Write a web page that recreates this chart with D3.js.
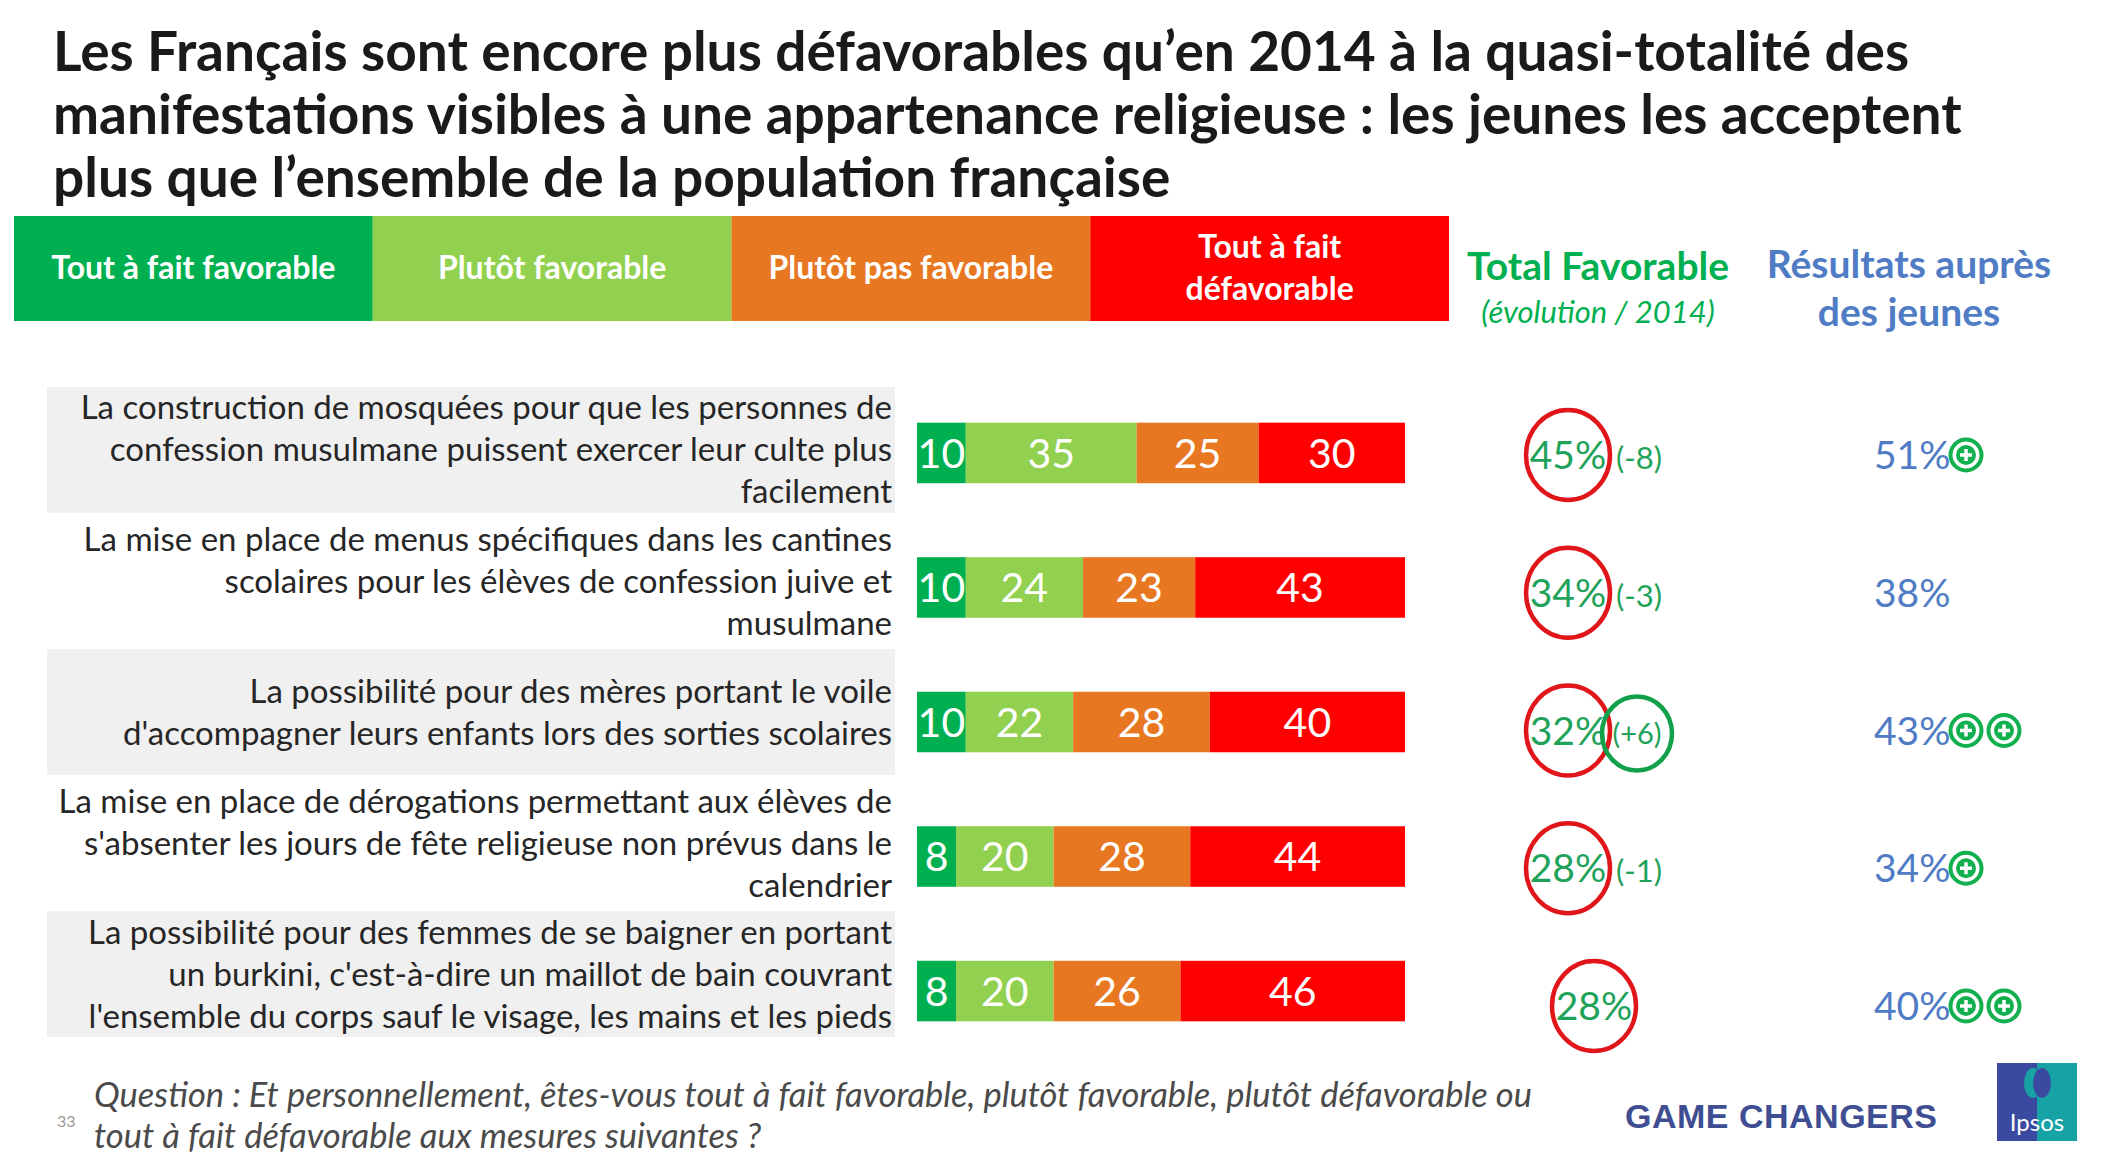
<!DOCTYPE html>
<html>
<head>
<meta charset="utf-8">
<script src="https://cdn.jsdelivr.net/npm/d3@7"></script>
<style>
  body { margin: 0; background: #fff; }
  svg { display: block; font-family: Lato, "Open Sans", sans-serif; }
</style>
</head>
<body>
<svg id="chart"></svg>
<script>
// data
const titleLines = [
  "Les Français sont encore plus défavorables qu’en 2014 à la quasi-totalité des",
  "manifestations visibles à une appartenance religieuse : les jeunes les acceptent",
  "plus que l’ensemble de la population française"
];
const categories = ["Tout à fait favorable", "Plutôt favorable", "Plutôt pas favorable", "Tout à fait défavorable"];
const items = [
  ["La construction de mosquées pour que les personnes de", "confession musulmane puissent exercer leur culte plus", "facilement"],
  ["La mise en place de menus spécifiques dans les cantines", "scolaires pour les élèves de confession juive et", "musulmane"],
  ["La possibilité pour des mères portant le voile", "d'accompagner leurs enfants lors des sorties scolaires"],
  ["La mise en place de dérogations permettant aux élèves de", "s'absenter les jours de fête religieuse non prévus dans le", "calendrier"],
  ["La possibilité pour des femmes de se baigner en portant", "un burkini, c'est-à-dire un maillot de bain couvrant", "l'ensemble du corps sauf le visage, les mains et les pieds"]
];
const toutFavorable = [10, 10, 10, 8, 8];
const plutotFavorable = [35, 24, 22, 20, 20];
const plutotPasFavorable = [25, 23, 28, 28, 26];
const toutDefavorable = [30, 43, 40, 44, 46];
const totalFavorable = [45, 34, 32, 28, 28];
const evolution = ["(-8)", "(-3)", "(+6)", "(-1)", null];
const evolutionUp = [false, false, true, false, false];
const jeunes = [51, 38, 43, 34, 40];
const jeunesPlus = [1, 0, 2, 1, 2];
const question = [
  "Question : Et personnellement, êtes-vous tout à fait favorable, plutôt favorable, plutôt défavorable ou",
  "tout à fait défavorable aux mesures suivantes ?"
];

const W = 2118, H = 1174;
const colors = ["#00B050", "#92D050", "#E87722", "#FF0000"];
const green = "#1FA25A", blue = "#4F7CC4";

const svg = d3.select("#chart").attr("width", W).attr("height", H);
svg.append("rect").attr("width", W).attr("height", H).attr("fill", "#fff");

// title
svg.append("g").selectAll("text")
  .data(titleLines)
  .enter()
  .append("text")
  .attr("x", 53)
  .attr("y", (d, i) => 71 + i * 63)
  .attr("font-size", 55)
  .attr("font-weight", 700)
  .attr("fill", "#1a1a1a")
  .text(d => d);

// legend header boxes
const hx = d3.scaleBand().domain(categories).range([14, 1449]);
const head = svg.append("g");
head.selectAll("rect")
  .data(categories)
  .enter()
  .append("rect")
  .attr("x", d => hx(d))
  .attr("y", 216)
  .attr("width", hx.bandwidth())
  .attr("height", 105)
  .attr("fill", (d, i) => colors[i]);
head.selectAll("text")
  .data(categories)
  .enter()
  .append("text")
  .attr("x", d => hx(d) + hx.bandwidth() / 2)
  .attr("y", 279)
  .attr("text-anchor", "middle")
  .attr("font-size", 32)
  .attr("font-weight", 700)
  .attr("fill", "#fff")
  .each(function (d, i) {
    const t = d3.select(this);
    if (i === 3) {
      t.append("tspan").attr("x", hx(d) + hx.bandwidth() / 2).attr("y", 258).text("Tout à fait");
      t.append("tspan").attr("x", hx(d) + hx.bandwidth() / 2).attr("y", 300).text("défavorable");
    } else {
      t.text(d);
    }
  });

svg.append("text").attr("x", 1598).attr("y", 280).attr("text-anchor", "middle")
  .attr("font-size", 39).attr("font-weight", 700).attr("fill", "#00B050").text("Total Favorable");
svg.append("text").attr("x", 1598).attr("y", 323).attr("text-anchor", "middle")
  .attr("font-size", 31).attr("font-style", "italic").attr("fill", "#00B050").text("(évolution / 2014)");
svg.append("text").attr("x", 1909).attr("y", 278).attr("text-anchor", "middle")
  .attr("font-size", 39).attr("font-weight", 700).attr("fill", blue).text("Résultats auprès");
svg.append("text").attr("x", 1909).attr("y", 326).attr("text-anchor", "middle")
  .attr("font-size", 39).attr("font-weight", 700).attr("fill", blue).text("des jeunes");

// row scales
const rowIdx = d3.range(items.length);
const yLabel = d3.scaleBand().domain(rowIdx).range([387, 1037]).paddingInner(0.04);
const yBar = d3.scaleBand().domain(rowIdx).range([385, 1059]).paddingInner(0.55).paddingOuter(0.28);
const yRight = d3.scalePoint().domain(rowIdx).range([455, 1006]);
const x = d3.scaleLinear().domain([0, 100]).range([917, 1405]);

// gray panels on alternate rows
svg.append("g").selectAll("rect")
  .data(rowIdx.filter(i => i % 2 === 0))
  .enter()
  .append("rect")
  .attr("x", 47)
  .attr("y", i => yLabel(i))
  .attr("width", 848)
  .attr("height", yLabel.bandwidth())
  .attr("fill", "#F0F0F0");

// row labels
const lineH = 42;
svg.append("g").selectAll("text")
  .data(items)
  .enter()
  .append("text")
  .attr("text-anchor", "end")
  .attr("font-size", 33)
  .attr("fill", "#262626")
  .each(function (lines, i) {
    const cy = yLabel(i) + yLabel.bandwidth() / 2;
    const top = cy - (lines.length - 1) * lineH / 2;
    d3.select(this).selectAll("tspan")
      .data(lines)
      .enter()
      .append("tspan")
      .attr("x", 892)
      .attr("y", (l, j) => top + j * lineH)
      .attr("dy", "0.35em")
      .text(l => l);
  });

// stacked bars
const table = rowIdx.map(i => ({
  i, "Tout à fait favorable": toutFavorable[i], "Plutôt favorable": plutotFavorable[i],
  "Plutôt pas favorable": plutotPasFavorable[i], "Tout à fait défavorable": toutDefavorable[i]
}));
const stacked = d3.stack().keys(categories)(table);
const seg = svg.append("g").selectAll("g")
  .data(stacked)
  .enter()
  .append("g")
  .attr("fill", (d, k) => colors[k]);
seg.selectAll("rect")
  .data(d => d)
  .enter()
  .append("rect")
  .attr("x", d => x(d[0]))
  .attr("y", d => yBar(d.data.i))
  .attr("width", d => x(d[1]) - x(d[0]))
  .attr("height", yBar.bandwidth());
seg.selectAll("text")
  .data(d => d)
  .enter()
  .append("text")
  .attr("x", d => (x(d[0]) + x(d[1])) / 2)
  .attr("y", d => yBar(d.data.i) + yBar.bandwidth() / 2)
  .attr("dy", "0.36em")
  .attr("text-anchor", "middle")
  .attr("font-size", 41)
  .attr("fill", "#fff")
  .text(d => d[1] - d[0]);

// total favorable column
const tot = svg.append("g");
rowIdx.forEach(i => {
  const cy = yRight(i);
  const cx = evolution[i] ? 1568 : 1594;
  tot.append("text").attr("x", cx).attr("y", cy).attr("dy", "0.36em")
    .attr("text-anchor", "middle").attr("font-size", 39).attr("fill", green)
    .text(totalFavorable[i] + "%");
  tot.append("ellipse").attr("cx", cx).attr("cy", cy).attr("rx", 42).attr("ry", 45)
    .attr("fill", "none").attr("stroke", "#E0161B").attr("stroke-width", 4.5);
  if (evolution[i]) {
    tot.append("text").attr("x", evolutionUp[i] ? 1637 : 1616).attr("y", cy + 3).attr("dy", "0.36em")
      .attr("text-anchor", evolutionUp[i] ? "middle" : "start")
      .attr("font-size", evolutionUp[i] ? 29 : 31).attr("fill", green)
      .text(evolution[i]);
    if (evolutionUp[i]) {
      tot.append("ellipse").attr("cx", 1637).attr("cy", cy + 3).attr("rx", 35).attr("ry", 37)
        .attr("fill", "none").attr("stroke", "#12A04A").attr("stroke-width", 4.5);
    }
  }
});

// youth column with plus markers
const jg = svg.append("g");
rowIdx.forEach(i => {
  const cy = yRight(i);
  jg.append("text").attr("x", 1874).attr("y", cy).attr("dy", "0.36em")
    .attr("font-size", 39).attr("fill", blue).text(jeunes[i] + "%");
  d3.range(jeunesPlus[i]).forEach(k => {
    const px = 1966 + k * 38;
    const p = jg.append("g").attr("transform", `translate(${px},${cy})`);
    p.append("circle").attr("r", 15.5).attr("fill", "#fff").attr("stroke", "#12B04E").attr("stroke-width", 4);
    p.append("circle").attr("r", 10).attr("fill", "#12B04E");
    p.append("path").attr("d", "M-6,0H6M0,-6V6").attr("stroke", "#fff").attr("stroke-width", 3.5);
  });
});

// footer
svg.append("text").attr("x", 57).attr("y", 1127).attr("font-size", 16).attr("fill", "#999").text("33");
svg.append("g").selectAll("text")
  .data(question)
  .enter()
  .append("text")
  .attr("x", 94)
  .attr("y", (d, i) => 1107 + i * 41)
  .attr("font-size", 34.5)
  .attr("font-style", "italic")
  .attr("fill", "#4a4a4a")
  .text(d => d);

svg.append("text").attr("x", 1625).attr("y", 1128)
  .attr("font-family", "'Liberation Sans', Arial, sans-serif")
  .attr("font-size", 34).attr("font-weight", 700).attr("fill", "#3F4E92")
  .attr("textLength", 312).text("GAME CHANGERS");

// Ipsos logo
const logo = svg.append("g").attr("transform", "translate(1997,1063)");
logo.append("rect").attr("width", 80).attr("height", 78).attr("fill", "#3A4AA0");
logo.append("rect").attr("x", 40).attr("width", 40).attr("height", 78).attr("fill", "#17A3A5");
logo.append("ellipse").attr("cx", 36).attr("cy", 20).attr("rx", 9).attr("ry", 15).attr("fill", "#17A3A5");
logo.append("ellipse").attr("cx", 45).attr("cy", 20).attr("rx", 9).attr("ry", 15).attr("fill", "#3A4AA0");
logo.append("text").attr("x", 40).attr("y", 68).attr("text-anchor", "middle")
  .attr("font-size", 24).attr("fill", "#fff").text("Ipsos");
</script>
</body>
</html>
